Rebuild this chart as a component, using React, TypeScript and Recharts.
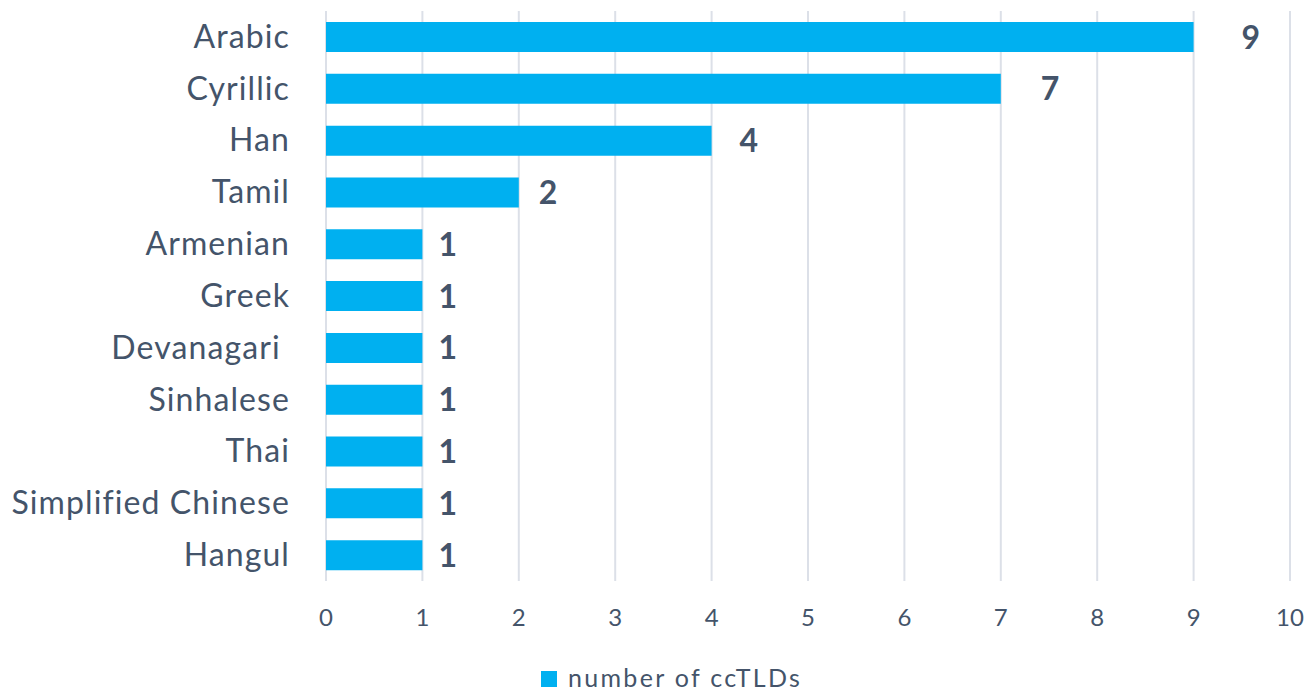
import { BarChart, Bar, XAxis, YAxis, CartesianGrid, LabelList, Legend } from "recharts";

const scripts = [
  "Arabic",
  "Cyrillic",
  "Han",
  "Tamil",
  "Armenian",
  "Greek",
  "Devanagari ",
  "Sinhalese",
  "Thai",
  "Simplified Chinese",
  "Hangul",
];
const ccTLDs = [9, 7, 4, 2, 1, 1, 1, 1, 1, 1, 1];
const xTicks = [0, 1, 2, 3, 4, 5, 6, 7, 8, 9, 10];

const data = scripts.map((name, i) => ({ name, count: ccTLDs[i] }));

const FONT = "Lato, 'Open Sans', sans-serif";
const TEXT = "#44546A";
const BLUE = "#00B0F0";

function ValueLabel(props: any) {
  const { x, y, width, height, value } = props;
  // excel placed these by hand; longer bars got a little more room
  const gap = 12 + value * 4;
  return (
    <text
      x={x + width + gap}
      y={y + height / 2}
      dy="0.36em"
      fill={TEXT}
      fontFamily={FONT}
      fontWeight={700}
      fontSize={32}
    >
      {value}
    </text>
  );
}

function CatTick(props: any) {
  const { x, y, payload } = props;
  return (
    <text
      x={x}
      y={y}
      dy="0.34em"
      textAnchor="end"
      fill={TEXT}
      fontFamily={FONT}
      fontSize={32}
      letterSpacing={1.1}
      style={{ whiteSpace: "pre" }}
    >
      {payload.value}
    </text>
  );
}

function NumTick(props: any) {
  const { x, y, payload } = props;
  return (
    <text x={x} y={y} dy="0.35em" textAnchor="middle" fill={TEXT} fontFamily={FONT} fontSize={24}>
      {payload.value}
    </text>
  );
}

function LegendBox() {
  return (
    <div
      style={{
        display: "flex",
        alignItems: "flex-start",
        fontFamily: FONT,
        fontSize: 25,
        lineHeight: "26px",
        height: 26,
        color: TEXT,
        whiteSpace: "nowrap",
      }}
    >
      <span style={{ width: 16, height: 16, background: BLUE, marginRight: 11, marginTop: 7, display: "inline-block" }} />
      <span style={{ letterSpacing: 2.3 }}>number of ccTLDs</span>
    </div>
  );
}

export default function App() {
  return (
    <div style={{ position: "absolute", left: 0, top: 0, background: "#fff" }}>
      <BarChart
        width={1310}
        height={691}
        data={data}
        layout="vertical"
        margin={{ top: 11, right: 20, bottom: 80, left: 0 }}
        barSize={30}
      >
        <CartesianGrid horizontal={false} stroke="#DCE0E8" strokeWidth={2} />
        <XAxis
          type="number"
          domain={[0, 10]}
          ticks={xTicks}
          height={30}
          axisLine={false}
          tickLine={false}
          tickSize={0}
          tickMargin={37}
          interval={0}
          tick={<NumTick />}
        />
        <YAxis
          type="category"
          dataKey="name"
          width={326}
          axisLine={false}
          tickLine={false}
          tickSize={0}
          tickMargin={36}
          interval={0}
          tick={<CatTick />}
        />
        <Legend
          content={<LegendBox />}
          verticalAlign="middle"
          wrapperStyle={{ left: 541, top: 664, width: "auto" }}
        />
        <Bar dataKey="count" fill={BLUE} isAnimationActive={false}>
          <LabelList dataKey="count" content={<ValueLabel />} />
        </Bar>
      </BarChart>
    </div>
  );
}
